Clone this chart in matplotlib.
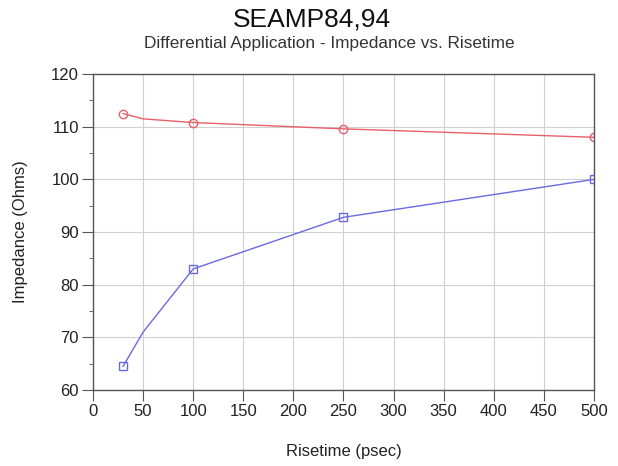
import matplotlib
matplotlib.use("Agg")
import matplotlib.pyplot as plt
from matplotlib.ticker import MultipleLocator

plt.rcParams['font.family'] = ['Liberation Sans', 'DejaVu Sans']

risetime_line = [30, 50, 100, 250, 500]
red_line = [112.5, 111.5, 110.8, 109.6, 108.0]
blue_line = [64.5, 71.0, 83.0, 92.8, 100.0]
risetime_marks = [30, 100, 250, 500]
red_marks = [112.5, 110.8, 109.6, 108.0]
blue_marks = [64.5, 83.0, 92.8, 100.0]

fig = plt.figure(figsize=(6.18, 4.66), dpi=100)
ax = fig.add_axes([0.1505, 0.163, 0.8105, 0.678])

red = '#e8606a'
blue = '#6a6ae0'
ax.plot(risetime_line, red_line, color=red, lw=1.0)
ax.plot(risetime_marks, red_marks, 'o', mfc='none', mec=red, ms=6, mew=1.0)
ax.plot(risetime_line, blue_line, color=blue, lw=1.0)
ax.plot(risetime_marks, blue_marks, 's', mfc='none', mec=blue, ms=6, mew=1.0)

ax.set_xlim(0, 500)
ax.set_ylim(60, 120)
ax.xaxis.set_major_locator(MultipleLocator(50))
ax.yaxis.set_major_locator(MultipleLocator(10))
ax.yaxis.set_minor_locator(MultipleLocator(5))
ax.grid(True, which='major', color='#d0d0d0', lw=0.8)
ax.set_axisbelow(True)
for s in ax.spines.values():
    s.set_color('#555555')
    s.set_linewidth(1.0)
ax.tick_params(axis='both', which='major', labelsize=12, colors='#555555',
               labelcolor='#222222', length=8, pad=2)
ax.tick_params(axis='y', which='minor', length=3, colors='#555555')

ax.set_xlabel('Risetime (psec)', fontsize=12, labelpad=18, color='#222222')
ax.set_ylabel('Impedance (Ohms)', fontsize=12, labelpad=17, color='#222222')

fig.text(0.505, 0.958, 'SEAMP84,94', ha='center', va='center', fontsize=19, color='#111111')
fig.text(0.533, 0.906, 'Differential Application - Impedance vs. Risetime', ha='center', va='center', fontsize=12.4, color='#333333')

fig.savefig('out.png', dpi=100)
